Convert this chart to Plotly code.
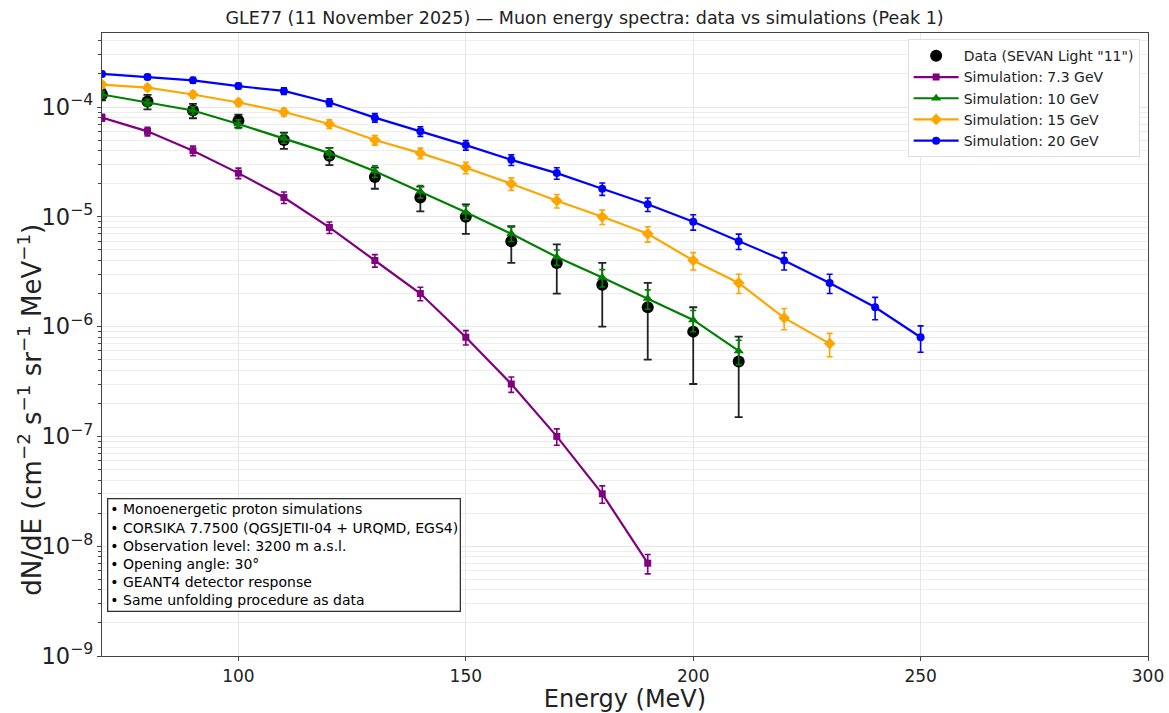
import plotly.graph_objects as go

# Energy grids (MeV)
energy_data = [70, 80, 90, 100, 110, 120, 130, 140, 150, 160, 170, 180, 190, 200, 210]
energy_7p3 = [70, 80, 90, 100, 110, 120, 130, 140, 150, 160, 170, 180, 190]
energy_10 = [70, 80, 90, 100, 110, 120, 130, 140, 150, 160, 170, 180, 190, 200, 210]
energy_15 = [70, 80, 90, 100, 110, 120, 130, 140, 150, 160, 170, 180, 190, 200, 210, 220, 230]
energy_20 = [70, 80, 90, 100, 110, 120, 130, 140, 150, 160, 170, 180, 190, 200, 210, 220, 230, 240, 250]

# Measured spectrum (SEVAN Light "11") and its uncertainties
flux_data = [1.3e-4, 1.12e-4, 9.3e-5, 7.5e-5, 5.0e-5, 3.6e-5, 2.3e-5, 1.5e-5, 1.0e-5,
             6.0e-6, 3.8e-6, 2.4e-6, 1.5e-6, 9.0e-7, 4.8e-7]
err_data = [1.5e-5, 1.7e-5, 1.4e-5, 1.0e-5, 8.5e-6, 6.5e-6, 5.0e-6, 3.8e-6, 3.0e-6,
            2.2e-6, 1.8e-6, 1.4e-6, 1.0e-6, 6.0e-7, 3.3e-7]

# Simulated spectra for monoenergetic primary protons
flux_7p3 = [8.0e-5, 6.0e-5, 4.0e-5, 2.5e-5, 1.5e-5, 8.0e-6, 4.0e-6, 2.0e-6, 8.0e-7,
            3.0e-7, 1.0e-7, 3.0e-8, 7.0e-9]
flux_10 = [1.3e-4, 1.1e-4, 9.3e-5, 7.0e-5, 5.2e-5, 3.8e-5, 2.6e-5, 1.7e-5, 1.1e-5,
           7.0e-6, 4.3e-6, 2.8e-6, 1.8e-6, 1.15e-6, 6.0e-7]
flux_15 = [1.6e-4, 1.5e-4, 1.3e-4, 1.1e-4, 9.0e-5, 7.0e-5, 5.0e-5, 3.8e-5, 2.8e-5,
           2.0e-5, 1.4e-5, 1.0e-5, 7.0e-6, 4.0e-6, 2.5e-6, 1.2e-6, 7.0e-7]
flux_20 = [2.0e-4, 1.88e-4, 1.75e-4, 1.55e-4, 1.4e-4, 1.1e-4, 8.0e-5, 6.0e-5, 4.5e-5,
           3.3e-5, 2.5e-5, 1.8e-5, 1.3e-5, 9.0e-6, 6.0e-6, 4.0e-6, 2.5e-6, 1.5e-6, 8.0e-7]

# Relative statistical uncertainties of the simulations
relerr_7p3 = [0.07, 0.09, 0.10, 0.11, 0.12, 0.12, 0.13, 0.14, 0.15, 0.16, 0.17, 0.18, 0.20]
relerr_10 = [0.07, 0.07, 0.08, 0.09, 0.10, 0.11, 0.12, 0.13, 0.14, 0.15, 0.16, 0.18, 0.20,
             0.22, 0.25]
relerr_15 = [0.06, 0.06, 0.07, 0.07, 0.08, 0.09, 0.10, 0.11, 0.12, 0.13, 0.14, 0.15, 0.16,
             0.18, 0.20, 0.22, 0.24]
relerr_20 = [0.05, 0.05, 0.06, 0.06, 0.07, 0.08, 0.09, 0.10, 0.10, 0.11, 0.12, 0.13, 0.14,
             0.16, 0.16, 0.18, 0.20, 0.23, 0.27]

notes = [
    "Monoenergetic proton simulations",
    "CORSIKA 7.7500 (QGSJETII-04 + URQMD, EGS4)",
    "Observation level: 3200 m a.s.l.",
    "Opening angle: 30°",
    "GEANT4 detector response",
    "Same unfolding procedure as data",
]

FONT = "DejaVu Sans"

fig = go.Figure()

fig.add_trace(go.Scatter(
    x=energy_data, y=flux_data, mode="markers",
    name='Data (SEVAN Light "11")',
    marker=dict(color="black", size=12, symbol="circle"),
    error_y=dict(type="data", array=err_data, visible=True,
                 color="#222222", thickness=1.8, width=4),
))

sims = [
    ("Simulation: 7.3 GeV", energy_7p3, flux_7p3, relerr_7p3, "#800080", "square", 7),
    ("Simulation: 10 GeV", energy_10, flux_10, relerr_10, "#008000", "triangle-up", 9),
    ("Simulation: 15 GeV", energy_15, flux_15, relerr_15, "#FFA500", "diamond", 9),
    ("Simulation: 20 GeV", energy_20, flux_20, relerr_20, "#0000FF", "circle", 8),
]
for name, ex, fy, rel, col, sym, sz in sims:
    fig.add_trace(go.Scatter(
        x=ex, y=fy, mode="lines+markers", name=name,
        line=dict(color=col, width=2.2),
        marker=dict(color=col, size=sz, symbol=sym),
        error_y=dict(type="data", array=[v * r for v, r in zip(fy, rel)], visible=True,
                     color=col, thickness=1.6, width=3),
    ))

# Simulation set-up notes (lower-left box)
fig.add_annotation(
    xref="paper", yref="paper", x=0.005, y=0.07, xanchor="left", yanchor="bottom",
    text="<br>".join("• " + s for s in notes), align="left", showarrow=False,
    font=dict(family=FONT, size=14, color="black"),
    bgcolor="white", bordercolor="#333333", borderwidth=1.3, borderpad=2,
)

# Vertical axis label
fig.add_annotation(
    xref="paper", yref="paper", x=-0.069, y=0.395, xanchor="center", yanchor="middle",
    text="dN/dE (cm<sup>−2</sup> s<sup>−1</sup> sr<sup>−1</sup> MeV<sup>−1</sup>)",
    textangle=-90, showarrow=False,
    font=dict(family=FONT, size=26, color="#222222"),
)

fig.update_layout(
    width=1169, height=713,
    margin=dict(l=102, r=21, t=33, b=57, autoexpand=False),
    paper_bgcolor="white", plot_bgcolor="white",
    font=dict(family=FONT, color="black"),
    title=dict(text="GLE77 (11 November 2025) — Muon energy spectra: data vs simulations (Peak 1)",
               x=0.5, xanchor="center", y=0.975, yanchor="middle",
               font=dict(family=FONT, size=17.5, color="#222222")),
    showlegend=True,
    legend=dict(x=0.992, y=0.99, xanchor="right", yanchor="top",
                bgcolor="white", bordercolor="#dddddd", borderwidth=1,
                font=dict(family=FONT, size=14, color="#222222"),
                itemwidth=45, tracegroupgap=0),
)

fig.update_xaxes(
    range=[70, 300], tickvals=[100, 150, 200, 250, 300], automargin=False,
    showgrid=True, gridcolor="#e6e6e6", gridwidth=1,
    showline=True, linecolor="#444444", linewidth=1.2, mirror=True,
    ticks="outside", ticklen=4, tickcolor="#444444",
    tickfont=dict(family=FONT, size=17, color="#222222"),
    title=dict(text="Energy (MeV)", font=dict(family=FONT, size=24, color="#222222")),
    zeroline=False,
)

fig.update_yaxes(
    type="log", range=[-9, -3.326], dtick=1, exponentformat="power", automargin=False,
    showgrid=True, gridcolor="#e6e6e6", gridwidth=1,
    minor=dict(dtick="D1", ticks="outside", ticklen=2.5, tickcolor="#444444",
               showgrid=True, gridcolor="#ededed", gridwidth=1),
    showline=True, linecolor="#444444", linewidth=1.2, mirror=True,
    ticks="outside", ticklen=4, tickcolor="#444444",
    tickfont=dict(family=FONT, size=18, color="#222222"),
    zeroline=False,
)

fig.write_html("out.html")
